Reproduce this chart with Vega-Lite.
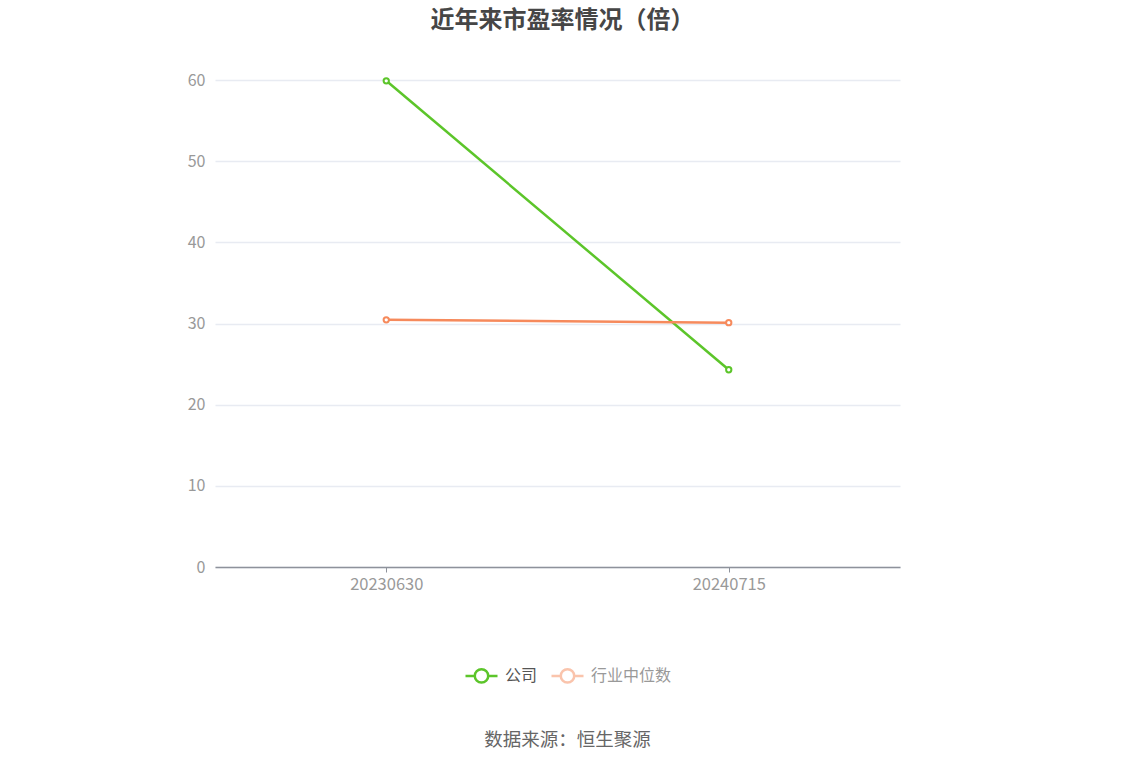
{
  "$schema": "https://vega.github.io/schema/vega-lite/v6.json",
  "autosize": "none",
  "width": 685,
  "height": 487,
  "padding": {"left": 215, "top": 80, "right": 234, "bottom": 199},
  "background": "white",
  "config": {
    "font": "Noto Sans CJK SC",
    "view": {"stroke": null}
  },
  "title": {
    "text": "近年来市盈率情况（倍）",
    "anchor": "middle",
    "frame": "group",
    "dx": 5,
    "offset": 39,
    "fontSize": 24,
    "fontWeight": "bold",
    "color": "#464646"
  },
  "data": {
    "values": [
      {"date": "20230630", "series": "公司", "pe": 59.9},
      {"date": "20240715", "series": "公司", "pe": 24.3},
      {"date": "20230630", "series": "行业中位数", "pe": 30.45},
      {"date": "20240715", "series": "行业中位数", "pe": 30.1}
    ]
  },
  "encoding": {
    "x": {
      "field": "date",
      "type": "ordinal",
      "scale": {"type": "point", "padding": 0.5},
      "axis": {
        "labelAngle": 0,
        "labelColor": "#999999",
        "labelFontSize": 16.5,
        "labelPadding": 4,
        "domainColor": "#8e929b",
        "domainWidth": 1.5,
        "tickColor": "#8e929b",
        "tickSize": 5,
        "grid": false,
        "title": "数据来源：恒生聚源",
        "titleFontSize": 18.5,
        "titleFontWeight": "normal",
        "titleColor": "#666666",
        "titlePadding": 138,
        "titleX": 352
      }
    },
    "y": {
      "field": "pe",
      "type": "quantitative",
      "scale": {"domain": [0, 60], "nice": false},
      "axis": {
        "values": [0, 10, 20, 30, 40, 50, 60],
        "title": null,
        "domain": false,
        "ticks": false,
        "labelColor": "#999999",
        "labelFontSize": 16,
        "labelPadding": 10,
        "gridColor": "#e8ebf2",
        "gridWidth": 1.5
      }
    },
    "stroke": {
      "field": "series",
      "type": "nominal",
      "scale": {"domain": ["公司", "行业中位数"], "range": ["#5cc52a", "#f68a5c"]},
      "legend": {
        "orient": "none",
        "direction": "horizontal",
        "legendX": 249,
        "legendY": 578,
        "title": null,
        "symbolType": "M-1,0H-0.42 M0.42,0H1 M0.42,0A0.42,0.42 0 1,1 -0.42,0A0.42,0.42 0 1,1 0.42,0",
        "symbolSize": 1024,
        "symbolStrokeWidth": 2.5,
        "symbolFillColor": "white",
        "labelFontSize": 16,
        "labelColor": "#555555",
        "labelOffset": 6,
        "columnPadding": 8,
        "encode": {
          "symbols": {"update": {"opacity": {"signal": "datum.value === '行业中位数' ? 0.5 : 1"}, "fill": {"value": "white"}}},
          "labels": {"update": {"fill": {"signal": "datum.value === '行业中位数' ? '#999999' : '#555555'"}}}
        }
      }
    }
  },
  "layer": [
    {"mark": {"type": "line", "strokeWidth": 2.5}},
    {"mark": {"type": "point", "filled": true, "fill": "white", "size": 28, "strokeWidth": 2, "opacity": 1}}
  ]
}
